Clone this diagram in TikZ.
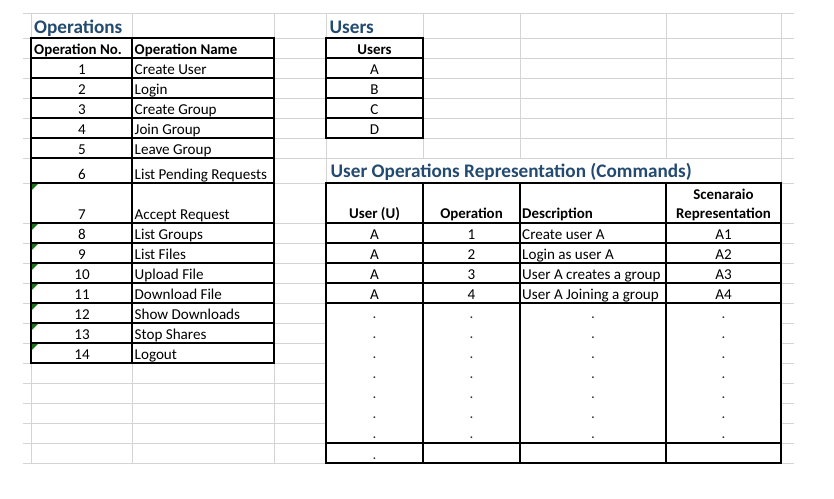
\documentclass[tikz,border=0pt]{standalone}
\usepackage{fontspec}
\setmainfont{Carlito}
\definecolor{gridc}{HTML}{D4D4D4}
\definecolor{ttl}{HTML}{234A70}
\definecolor{errg}{HTML}{1E6E1E}
\begin{document}
\begin{tikzpicture}[x=1pt,y=-1pt,
  gridline/.style={draw=gridc,line width=0.9pt},
  bd/.style={draw=black,line width=1.2pt},
  txt/.style={inner sep=0pt,font=\fontsize{15.1}{18}\selectfont},
  ctxt/.style={txt,anchor=base},
  ltxt/.style={txt,anchor=base west},
  bctxt/.style={ctxt,font=\fontsize{14.9}{18}\selectfont\bfseries},
  bltxt/.style={ltxt,font=\fontsize{14.9}{18}\selectfont\bfseries},
  ttltxt/.style={inner sep=0pt,anchor=base west,text=ttl,font=\fontsize{19.2}{23}\selectfont\bfseries},
  dot/.style={ctxt,text=black!80},
  errmark/.style={fill=errg}]
\useasboundingbox (0,0) rectangle (834,498);
\fill[white] (0,0) rectangle (834,498);
% ---------- sheet gridlines ----------
\foreach \y in {13,38,58,78,98,118,138,158,183,223,243,263,283,303,323,343,363,383,403,423,443,463}
  \draw[gridline] (23,\y) -- (794,\y);
\foreach \x in {31,132,274,326,781}
  \draw[gridline] (\x,13) -- (\x,463);
\foreach \x in {423,520,666} {
  \draw[gridline] (\x,13) -- (\x,158);
  \draw[gridline] (\x,183) -- (\x,463);
}
% merged block hides inner gridlines
\fill[white] (326,303) rectangle (781,443);
% ---------- Operations table ----------
\node[ttltxt] (tops) at (34,33) {Operations};
\draw[bd] (31,38) rectangle (274,363);
\draw[bd] (132,38) -- (132,363);
\foreach \y in {58,78,98,118,138,158,183,223,243,263,283,303,323,343}
  \draw[bd] (31,\y) -- (274,\y);
\foreach \y in {183,223,243,263,283,303,323,343}
  \fill[errmark] (32,\y+0.8) -- (38,\y+0.8) -- (32,\y+6.8) -- cycle;
\node[bltxt] (hno) at (34,54) {Operation No.};
\node[bltxt] (hname) at (134.5,54) {Operation Name};
\foreach \n/\name/\b in {1/Create User/74,2/Login/94,3/Create Group/114,4/Join Group/134,
  5/Leave Group/154,6/List Pending Requests/179,7/Accept Request/219,8/List Groups/239,
  9/List Files/259,10/Upload File/279,11/Download File/299,12/Show Downloads/319,
  13/Stop Shares/339,14/Logout/359} {
  \node[ctxt] (no\n) at (82,\b) {\n};
  \node[ltxt] (nm\n) at (134.5,\b) {\name};
}
% ---------- Users table ----------
\node[ttltxt] (tusers) at (329.5,33) {Users};
\draw[bd] (326,38) rectangle (423,138);
\foreach \y in {58,78,98,118}
  \draw[bd] (326,\y) -- (423,\y);
\node[bctxt] (husers) at (374.5,54) {Users};
\foreach \u/\b in {A/74,B/94,C/114,D/134}
  \node[ctxt] (u\u) at (374.5,\b) {\u};
% ---------- User Operations Representation ----------
\node[ttltxt] (tcmd) at (330.5,177.5) {User Operations Representation (Commands)};
\draw[bd] (326,183) rectangle (781,463);
\foreach \x in {423,520,666}
  \draw[bd] (\x,183) -- (\x,463);
\foreach \y in {223,243,263,283,303,443}
  \draw[bd] (326,\y) -- (781,\y);
\node[bctxt] (huser) at (374.5,218.5) {User (U)};
\node[bctxt] (hop) at (471.5,218.5) {Operation};
\node[bltxt] (hdesc) at (522,218.5) {Description};
\node[bctxt] (hsc1) at (723.5,199) {Scenaraio};
\node[bctxt] (hsc2) at (723.5,218.5) {Representation};
\foreach \k/\d/\b in {1/Create user A/239,2/Login as user A/259,3/User A creates a group/279,4/User A Joining a group/299} {
  \node[ctxt] (ru\k) at (374.5,\b) {A};
  \node[ctxt] (ro\k) at (471.5,\b) {\k};
  \node[ltxt] (rd\k) at (522,\b) {\d};
  \node[ctxt] (rs\k) at (723.5,\b) {A\k};
}
\foreach \k in {0,...,6} {
  \node[dot] (da\k) at (374.5,318.5+20*\k) {.};
  \node[dot] (db\k) at (471.5,318.5+20*\k) {.};
  \node[dot] (dc\k) at (593,318.5+20*\k) {.};
  \node[dot] (dd\k) at (723.5,318.5+20*\k) {.};
}
\node[dot] (dlast) at (374.5,459) {.};
\end{tikzpicture}
\end{document}
